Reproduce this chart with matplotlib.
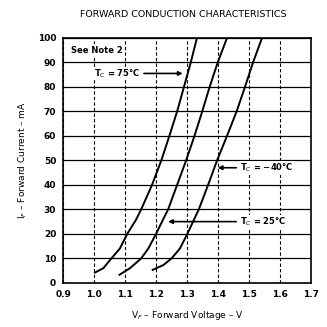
import matplotlib
matplotlib.use("Agg")
import matplotlib.pyplot as plt

# forward current (mA) and forward voltage (V)
i_75 = [4.2, 6, 10, 14, 20, 25.7, 30, 40, 50, 60, 70, 80, 90, 100]
v_75 = [1.003, 1.03, 1.056, 1.083, 1.107, 1.135, 1.152, 1.187, 1.217, 1.243, 1.268, 1.29, 1.312, 1.332]
i_25 = [3.3, 6, 10, 14, 20, 25.7, 30, 40, 50, 60, 70, 80, 90, 100]
v_25 = [1.082, 1.116, 1.152, 1.175, 1.2, 1.222, 1.239, 1.268, 1.297, 1.324, 1.349, 1.373, 1.399, 1.429]
i_m40 = [5.3, 7.3, 10, 14, 20, 25.7, 30, 40, 50, 60, 70, 80, 90, 100]
v_m40 = [1.189, 1.224, 1.25, 1.277, 1.301, 1.322, 1.338, 1.368, 1.397, 1.429, 1.46, 1.487, 1.513, 1.542]

x_ticks = [0.9, 1.0, 1.1, 1.2, 1.3, 1.4, 1.5, 1.6, 1.7]
y_ticks = [0, 10, 20, 30, 40, 50, 60, 70, 80, 90, 100]

fig = plt.figure(figsize=(3.27, 3.27), dpi=100)
ax = fig.add_axes([0.193, 0.135, 0.758, 0.749])

for y in y_ticks:
    ax.axhline(y, color="black", lw=0.9, zorder=1)
for x in x_ticks:
    ax.axvline(x, color="black", lw=0.8, ls=(0, (3, 2)), zorder=1)

for v, i in [(v_75, i_75), (v_25, i_25), (v_m40, i_m40)]:
    ax.plot(v, i, color="black", lw=1.4, zorder=3)

ax.set_xlim(0.9, 1.7)
ax.set_ylim(0, 100)
ax.set_xticks(x_ticks)
ax.set_yticks(y_ticks)
ax.set_xticklabels([f"{t:.1f}" for t in x_ticks], fontsize=6.5, fontweight="bold")
ax.set_yticklabels([str(t) for t in y_ticks], fontsize=6.5, fontweight="bold")
ax.tick_params(length=0, pad=5)
for s in ax.spines.values():
    s.set_linewidth(1.2)

ax.text(0.925, 95, "See Note 2", fontsize=6, fontweight="bold", va="center",
        bbox=dict(facecolor="white", edgecolor="none", pad=1), zorder=4)

arrow = dict(arrowstyle="-|>", color="black", lw=1.2, mutation_scale=6)
ax.annotate("T$_C$ = 75°C", xy=(1.295, 85.5), xytext=(1.0, 85.5),
            fontsize=6, fontweight="bold", va="center", arrowprops=arrow,
            bbox=dict(facecolor="white", edgecolor="none", pad=0.5), zorder=4)
ax.annotate("T$_C$ = \u221240°C", xy=(1.39, 47), xytext=(1.47, 47),
            fontsize=6, fontweight="bold", va="center", arrowprops=arrow,
            bbox=dict(facecolor="white", edgecolor="none", pad=0.5), zorder=4)
ax.annotate("T$_C$ = 25°C", xy=(1.23, 25), xytext=(1.47, 25),
            fontsize=6, fontweight="bold", va="center", arrowprops=arrow,
            bbox=dict(facecolor="white", edgecolor="none", pad=0.5), zorder=4)

fig.text(0.56, 0.955, "FORWARD CONDUCTION CHARACTERISTICS", fontsize=6.8,
         ha="center", va="center")
ax.set_xlabel("V$_F$ \u2013 Forward Voltage \u2013 V", fontsize=6.5, labelpad=7)
ax.set_ylabel("I$_F$ \u2013 Forward Current \u2013 mA", fontsize=6.5, labelpad=6)

fig.savefig("out.png", dpi=100)
